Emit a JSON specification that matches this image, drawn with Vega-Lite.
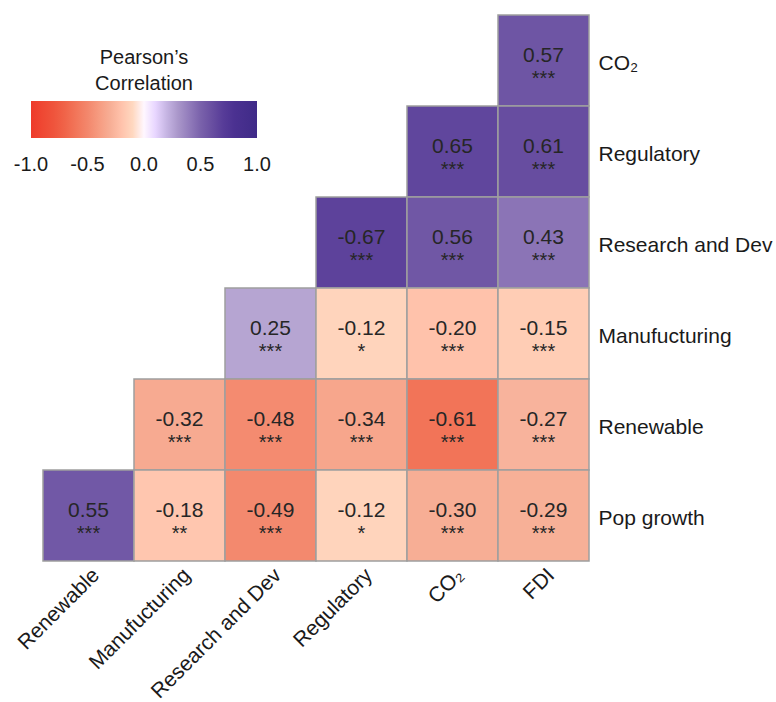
{
  "$schema": "https://vega.github.io/schema/vega-lite/v6.json",
  "width": 546,
  "height": 546,
  "autosize": "none",
  "padding": {"left": 43, "top": 15, "right": 187, "bottom": 141},
  "background": "white",
  "config": {
    "view": {"stroke": null},
    "font": "Liberation Sans",
    "locale": {"number": {"decimal": ".", "thousands": ",", "grouping": [3], "currency": ["$", ""], "minus": "-"}}
  },
  "data": {
    "values": [
      {"col": "FDI", "row": "CO₂", "r": 0.57, "fill": 0.57, "sig": "***"},
      {"col": "CO₂", "row": "Regulatory", "r": 0.65, "fill": 0.65, "sig": "***"},
      {"col": "FDI", "row": "Regulatory", "r": 0.61, "fill": 0.61, "sig": "***"},
      {"col": "Regulatory", "row": "Research and Dev", "r": -0.67, "fill": 0.67, "sig": "***"},
      {"col": "CO₂", "row": "Research and Dev", "r": 0.56, "fill": 0.56, "sig": "***"},
      {"col": "FDI", "row": "Research and Dev", "r": 0.43, "fill": 0.43, "sig": "***"},
      {"col": "Research and Dev", "row": "Manufucturing", "r": 0.25, "fill": 0.25, "sig": "***"},
      {"col": "Regulatory", "row": "Manufucturing", "r": -0.12, "fill": -0.12, "sig": "*"},
      {"col": "CO₂", "row": "Manufucturing", "r": -0.20, "fill": -0.20, "sig": "***"},
      {"col": "FDI", "row": "Manufucturing", "r": -0.15, "fill": -0.15, "sig": "***"},
      {"col": "Manufucturing", "row": "Renewable", "r": -0.32, "fill": -0.32, "sig": "***"},
      {"col": "Research and Dev", "row": "Renewable", "r": -0.48, "fill": -0.48, "sig": "***"},
      {"col": "Regulatory", "row": "Renewable", "r": -0.34, "fill": -0.34, "sig": "***"},
      {"col": "CO₂", "row": "Renewable", "r": -0.61, "fill": -0.61, "sig": "***"},
      {"col": "FDI", "row": "Renewable", "r": -0.27, "fill": -0.27, "sig": "***"},
      {"col": "Renewable", "row": "Pop growth", "r": 0.55, "fill": 0.55, "sig": "***"},
      {"col": "Manufucturing", "row": "Pop growth", "r": -0.18, "fill": -0.18, "sig": "**"},
      {"col": "Research and Dev", "row": "Pop growth", "r": -0.49, "fill": -0.49, "sig": "***"},
      {"col": "Regulatory", "row": "Pop growth", "r": -0.12, "fill": -0.12, "sig": "*"},
      {"col": "CO₂", "row": "Pop growth", "r": -0.30, "fill": -0.30, "sig": "***"},
      {"col": "FDI", "row": "Pop growth", "r": -0.29, "fill": -0.29, "sig": "***"}
    ]
  },
  "encoding": {
    "x": {
      "field": "col", "type": "nominal",
      "sort": ["Renewable", "Manufucturing", "Research and Dev", "Regulatory", "CO₂", "FDI"],
      "scale": {"paddingInner": 0, "paddingOuter": 0},
      "axis": {"orient": "bottom", "title": null, "domain": false, "ticks": false, "labelAngle": -45, "labelAlign": "right", "labelBaseline": "top", "labelPadding": 3, "labelFontSize": 21, "labelColor": "#1a1a1a", "labelFont": "Liberation Sans"}
    },
    "y": {
      "field": "row", "type": "nominal",
      "sort": ["CO₂", "Regulatory", "Research and Dev", "Manufucturing", "Renewable", "Pop growth"],
      "scale": {"paddingInner": 0, "paddingOuter": 0},
      "axis": {"orient": "right", "title": null, "domain": false, "ticks": false, "labelPadding": 9, "labelOffset": 3, "labelFontSize": 21, "labelColor": "#1a1a1a", "labelFont": "Liberation Sans", "labelAlign": "left"}
    }
  },
  "layer": [
    {
      "mark": {"type": "rect", "stroke": "#9e9e9e", "strokeWidth": 1.5},
      "encoding": {
        "color": {
          "field": "fill", "type": "quantitative",
          "scale": {"domain": [-1, -0.75, -0.5, -0.25, 0, 0.25, 0.5, 0.75, 1], "range": ["#ee3a2a", "#ef5a40", "#f3876c", "#f8b7a0", "#ffffff", "#b6a5d2", "#7a62ab", "#4e3393", "#3f2a88"]},
          "legend": {
            "orient": "none", "legendX": -12, "legendY": 33, "direction": "horizontal",
            "gradientLength": 226, "gradientThickness": 37, "gradientStrokeWidth": 0,
            "title": ["Pearson’s", "Correlation"], "titleFontSize": 20, "titleFontWeight": "normal", "titleColor": "#1a1a1a",
            "titleAnchor": "middle", "titleLineHeight": 26, "titlePadding": 7,
            "labelFontSize": 20, "labelColor": "#1a1a1a", "labelAlign": "center", "labelOffset": 17,
            "values": [-1, -0.5, 0, 0.5, 1], "format": ".1f", "padding": 0,
            "encode": {"labels": {"update": {"align": {"value": "center"}}}}
          }
        }
      }
    },
    {
      "mark": {"type": "text", "dy": -5, "fontSize": 21, "color": "#262626", "font": "Liberation Sans"},
      "encoding": {"text": {"field": "r", "type": "quantitative", "format": ".2f"}}
    },
    {
      "mark": {"type": "text", "dy": 18, "fontSize": 20, "color": "#262626", "font": "Liberation Sans"},
      "encoding": {"text": {"field": "sig", "type": "nominal"}}
    }
  ]
}
